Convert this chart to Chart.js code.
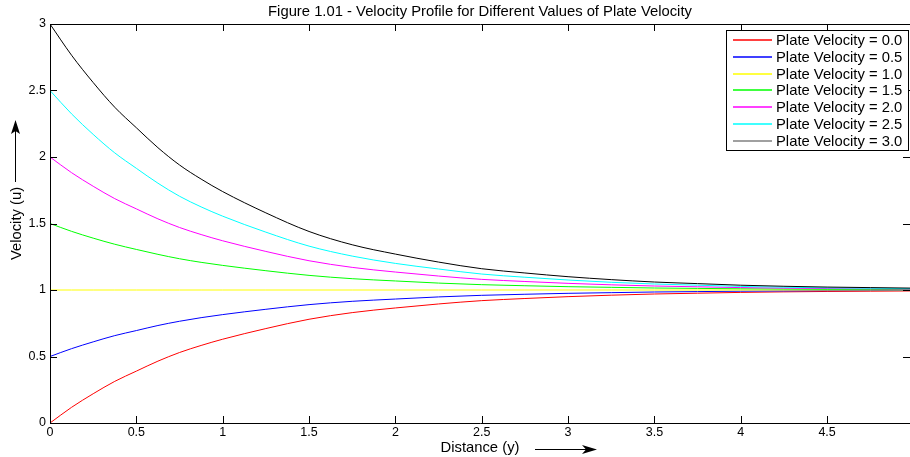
<!DOCTYPE html>
<html>
<head>
<meta charset="utf-8">
<script src="https://cdn.jsdelivr.net/npm/chart.js@4/dist/chart.umd.min.js"></script>
<style>
html,body{margin:0;padding:0;background:#fff;overflow:hidden;}
#wrap{width:910px;height:457px;}
</style>
</head>
<body>
<div id="wrap"><canvas id="c" width="910" height="457"></canvas></div>
<script>
// ---- data ----
const distance = [0, 0.125, 0.25, 0.375, 0.5, 0.625, 0.75, 0.875, 1, 1.25, 1.5, 1.75, 2, 2.25, 2.5, 2.75, 3, 3.25, 3.5, 3.75, 4, 4.25, 4.5, 4.75, 5];
const seriesLabels = ['Plate Velocity = 0.0', 'Plate Velocity = 0.5', 'Plate Velocity = 1.0', 'Plate Velocity = 1.5', 'Plate Velocity = 2.0', 'Plate Velocity = 2.5', 'Plate Velocity = 3.0'];
const u00 = [0, 0.118, 0.22, 0.313, 0.39, 0.465, 0.53, 0.583, 0.63, 0.71, 0.78, 0.83, 0.865, 0.895, 0.92, 0.936, 0.95, 0.961, 0.97, 0.976, 0.982, 0.986, 0.989, 0.991, 0.993];
const u05 = [0.5, 0.559, 0.61, 0.657, 0.695, 0.733, 0.765, 0.792, 0.815, 0.855, 0.89, 0.915, 0.932, 0.948, 0.96, 0.968, 0.975, 0.98, 0.985, 0.988, 0.991, 0.993, 0.995, 0.996, 0.997];
const u10 = [1, 1, 1, 1, 1, 1, 1, 1, 1, 1, 1, 1, 1, 1, 1, 1, 1, 1, 1, 1, 1, 1, 1, 1, 1];
const u15 = [1.5, 1.441, 1.39, 1.344, 1.305, 1.268, 1.235, 1.208, 1.185, 1.145, 1.11, 1.085, 1.068, 1.052, 1.04, 1.032, 1.025, 1.02, 1.015, 1.012, 1.009, 1.007, 1.005, 1.004, 1.003];
const u20 = [2, 1.882, 1.78, 1.687, 1.61, 1.535, 1.47, 1.417, 1.37, 1.29, 1.22, 1.17, 1.135, 1.105, 1.08, 1.064, 1.05, 1.039, 1.03, 1.024, 1.018, 1.014, 1.011, 1.009, 1.007];
const u25 = [2.5, 2.324, 2.17, 2.031, 1.915, 1.803, 1.705, 1.625, 1.555, 1.435, 1.33, 1.255, 1.2, 1.158, 1.12, 1.096, 1.075, 1.058, 1.045, 1.036, 1.027, 1.021, 1.016, 1.013, 1.01];
const u30 = [3, 2.765, 2.56, 2.374, 2.22, 2.07, 1.94, 1.834, 1.74, 1.58, 1.44, 1.34, 1.27, 1.21, 1.16, 1.128, 1.1, 1.078, 1.06, 1.048, 1.036, 1.028, 1.022, 1.018, 1.014];
const allSeries = [u00, u05, u10, u15, u20, u25, u30];
const colors = ['#ff0000', '#0000ff', '#ffff00', '#00ff00', '#ff00ff', '#00ffff', '#000000'];
const legendColors = ['#ff0000', '#0000ff', '#ffff00', '#00ff00', '#ff00ff', '#00ffff', '#808080'];

const FONT = '"Liberation Sans", Arial, Helvetica, sans-serif';
const fmt = v => String(Math.round(v * 100) / 100);

const datasets = allSeries.map((s, i) => ({
  label: seriesLabels[i],
  data: s.map((v, k) => ({x: distance[k], y: v})),
  borderColor: colors[i],
  backgroundColor: colors[i],
  borderWidth: 1,
  pointRadius: 0,
  fill: false,
  cubicInterpolationMode: 'monotone',
  order: allSeries.length - i
}));

const decor = {
  id: 'decor',
  afterDraw(chart) {
    const ctx = chart.ctx;
    const a = chart.chartArea;
    const xs = chart.scales.x, ys = chart.scales.y;
    ctx.save();
    ctx.strokeStyle = '#000';
    ctx.lineWidth = 1;
    // box
    ctx.beginPath();
    ctx.moveTo(a.left + 0.5, a.bottom + 0.5);
    ctx.lineTo(a.left + 0.5, a.top + 0.5);
    ctx.lineTo(a.right + 0.5, a.top + 0.5);
    ctx.lineTo(a.right + 0.5, a.bottom + 0.5);
    ctx.closePath();
    ctx.stroke();
    // inward ticks
    const TL = 7;
    ctx.beginPath();
    xs.ticks.forEach(t => {
      const px = Math.round(xs.getPixelForValue(t.value)) + 0.5;
      ctx.moveTo(px, a.bottom); ctx.lineTo(px, a.bottom - TL);
      ctx.moveTo(px, a.top); ctx.lineTo(px, a.top + TL);
    });
    ys.ticks.forEach(t => {
      const py = Math.round(ys.getPixelForValue(t.value)) + 0.5;
      ctx.moveTo(a.left, py); ctx.lineTo(a.left + TL, py);
      ctx.moveTo(a.right, py); ctx.lineTo(a.right - TL, py);
    });
    ctx.stroke();

    // arrows next to axis titles
    ctx.fillStyle = '#000';
    ctx.beginPath();
    ctx.moveTo(15.5, 182); ctx.lineTo(15.5, 130);
    ctx.stroke();
    ctx.beginPath();
    ctx.moveTo(15.5, 120); ctx.lineTo(11, 134); ctx.lineTo(15.5, 131); ctx.lineTo(20, 134);
    ctx.closePath(); ctx.fill();
    ctx.beginPath();
    ctx.moveTo(535, 449.5); ctx.lineTo(588, 449.5);
    ctx.stroke();
    ctx.beginPath();
    ctx.moveTo(597, 449.5); ctx.lineTo(582, 445); ctx.lineTo(586, 449.5); ctx.lineTo(582, 454);
    ctx.closePath(); ctx.fill();

    // legend
    const lx = 726, ly = 30, lw = 182, lh = 120;
    ctx.fillStyle = '#fff';
    ctx.fillRect(lx, ly, lw, lh);
    ctx.strokeStyle = '#000';
    ctx.lineWidth = 1;
    ctx.strokeRect(lx + 0.5, ly + 0.5, lw, lh);
    ctx.font = '14.8px ' + FONT;
    ctx.textBaseline = 'middle';
    ctx.textAlign = 'left';
    for (let i = 0; i < seriesLabels.length; i++) {
      const cy = Math.round(40 + i * 16.8);
      ctx.beginPath();
      ctx.strokeStyle = legendColors[i];
      ctx.lineWidth = 1.5;
      ctx.moveTo(733, cy); ctx.lineTo(772, cy);
      ctx.stroke();
      ctx.fillStyle = '#000';
      ctx.fillText(seriesLabels[i], 776, cy + 1);
    }
    ctx.restore();
  }
};

new Chart(document.getElementById('c'), {
  type: 'line',
  data: { datasets },
  options: {
    responsive: false,
    animation: false,
    layout: { padding: 0 },
    plugins: {
      legend: { display: false },
      tooltip: { enabled: false },
      title: {
        display: true,
        fullSize: false,
        text: 'Figure 1.01 - Velocity Profile for Different Values of Plate Velocity',
        color: '#000',
        font: { family: FONT, size: 14.8, weight: 'normal' },
        padding: { top: 3, bottom: 3.24 }
      }
    },
    scales: {
      x: {
        type: 'linear',
        min: 0,
        max: 4.98,
        border: { display: false },
        grid: { display: false, drawTicks: false },
        ticks: {
          stepSize: 0.5,
          includeBounds: false,
          color: '#000',
          padding: 2.5,
          maxRotation: 0,
          font: { family: FONT, size: 12.5 },
          callback: fmt
        },
        title: {
          display: true,
          text: 'Distance (y)',
          color: '#000',
          font: { family: FONT, size: 14.8 },
          padding: { top: 0, bottom: 0 }
        },
        afterFit(s) { s.height = 34; }
      },
      y: {
        type: 'linear',
        min: 0,
        max: 3,
        border: { display: false },
        grid: { display: false, drawTicks: false },
        ticks: {
          stepSize: 0.5,
          color: '#000',
          padding: 4,
          font: { family: FONT, size: 12.5 },
          callback: fmt
        },
        title: {
          display: true,
          text: 'Velocity (u)',
          color: '#000',
          font: { family: FONT, size: 14.8 },
          padding: { top: 8, bottom: 0 }
        },
        afterFit(s) { s.width = 50; }
      }
    }
  },
  plugins: [decor]
});
</script>
</body>
</html>
